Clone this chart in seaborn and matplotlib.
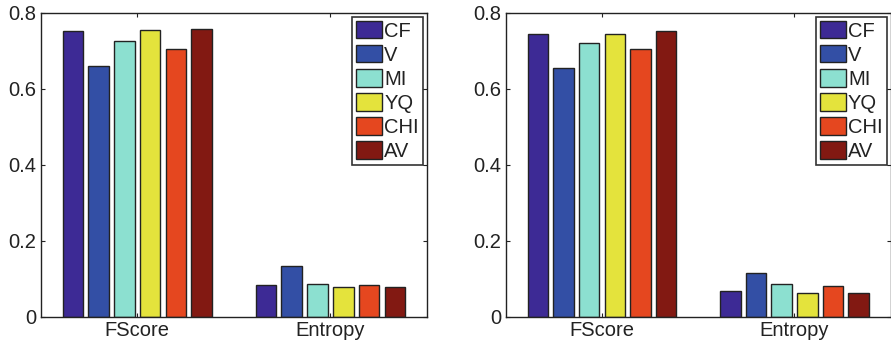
import matplotlib
matplotlib.use("Agg")
import matplotlib.pyplot as plt
import seaborn as sns
import pandas as pd

metrics = ["FScore", "Entropy"]
methods = ["CF", "V", "MI", "YQ", "CHI", "AV"]
left_fscore = [0.753, 0.660, 0.727, 0.756, 0.706, 0.759]
left_entropy = [0.083, 0.133, 0.088, 0.079, 0.084, 0.079]
right_fscore = [0.746, 0.656, 0.720, 0.744, 0.705, 0.752]
right_entropy = [0.068, 0.116, 0.088, 0.062, 0.082, 0.062]
colors = ["#3d2a95", "#334fa5", "#8ce0d0", "#e4e33c", "#e5471f", "#821912"]
yticks = [0, 0.2, 0.4, 0.6, 0.8]
ytick_labels = ["0", "0.2", "0.4", "0.6", "0.8"]

sns.set_theme(style="white")
plt.rcParams["font.family"] = ["Liberation Sans", "DejaVu Sans"]

fig = plt.figure(figsize=(8.91, 3.47), dpi=100)
W, H = 891, 347
ax1 = fig.add_axes([40.7 / W, 30 / H, 386.3 / W, 304 / H])
ax2 = fig.add_axes([505.7 / W, 30 / H, 385 / W, 304 / H])


def make_df(fs, en):
    rows = []
    for m, v in zip(methods, fs):
        rows.append({"metric": metrics[0], "method": m, "value": v})
    for m, v in zip(methods, en):
        rows.append({"metric": metrics[1], "method": m, "value": v})
    return pd.DataFrame(rows)


for ax, fs, en in [(ax1, left_fscore, left_entropy), (ax2, right_fscore, right_entropy)]:
    df = make_df(fs, en)
    sns.barplot(data=df, x="metric", y="value", hue="method", order=metrics,
                hue_order=methods, palette=colors, width=0.8, gap=0.2,
                edgecolor="#222222", linewidth=1.0, saturation=1, ax=ax)
    ax.set_xlim(-0.5, 1.5)
    ax.set_ylim(0, 0.8)
    ax.set_yticks(yticks)
    ax.set_yticklabels(ytick_labels)
    ax.set_xlabel("")
    ax.set_ylabel("")
    for s in ax.spines.values():
        s.set_visible(True)
        s.set_color("#222222")
        s.set_linewidth(1.0)
    ax.tick_params(direction="in", length=3, width=0.8, top=True, right=True,
                   bottom=True, left=True, labelsize=14.5, colors="#222222",
                   pad=3, labelcolor="#222222")
    leg = ax.legend(loc="upper right", bbox_to_anchor=(1.0, 1.0),
                    borderaxespad=0.2, fontsize=14.5, frameon=True, fancybox=False,
                    handlelength=1.3, handleheight=0.95, handletextpad=0.1,
                    labelspacing=0.22, borderpad=0.2)
    leg.get_frame().set_edgecolor("black")
    leg.get_frame().set_linewidth(1.2)
    for t in leg.get_texts():
        t.set_color("#222222")

fig.savefig("out.png", dpi=100)
